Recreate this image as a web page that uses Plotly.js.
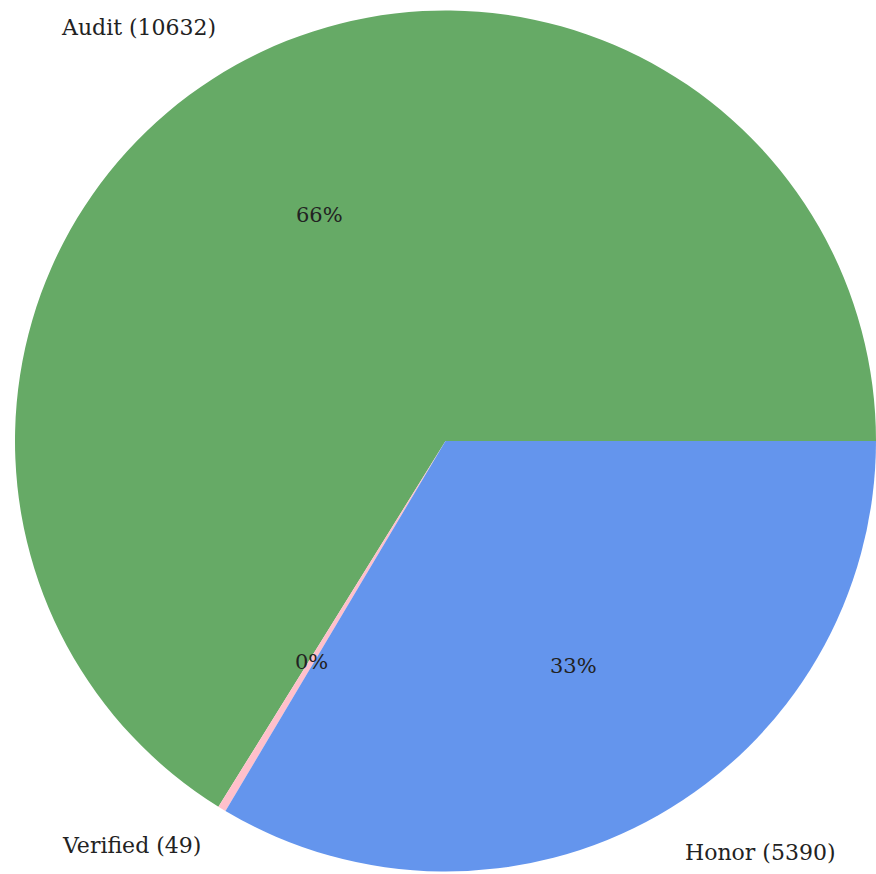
<!DOCTYPE html>
<html>
<head>
<meta charset="utf-8">
<script src="https://cdn.plot.ly/plotly-3.0.1.min.js"></script>
<style>html,body{margin:0;padding:0;background:#fff;}#chart{width:876px;height:874px;}</style>
</head>
<body>
<div id="chart"></div>
<script>
const categories = ["Audit", "Verified", "Honor"];
const counts = [10632, 49, 5390];
const colors = ["#66aa66", "#ffc0cb", "#6495ed"];

const W = 876, H = 874;
const margin = {l: 15, r: 0, t: 8, b: 0};
const pw = W - margin.l - margin.r, ph = H - margin.t - margin.b;
const cx = margin.l + pw / 2, cy = margin.t + ph / 2;
const R = Math.min(pw, ph) / 2;

const total = counts.reduce((a, b) => a + b, 0);
const font = "DejaVu Serif, serif";
const annotations = [];
let start = 0;
counts.forEach((v, i) => {
  const frac = v / total;
  const mid = (start + frac / 2) * 2 * Math.PI;
  start += frac;
  const c = Math.cos(mid), s = Math.sin(mid);
  const lx = cx + 1.1 * R * c, ly = cy - 1.1 * R * s;
  annotations.push({
    x: (lx - margin.l) / pw, y: 1 - (ly - margin.t) / ph,
    xref: "paper", yref: "paper", showarrow: false,
    text: categories[i] + " (" + v + ")",
    xanchor: c >= 0 ? "left" : "right", yanchor: "middle",
    xshift: 3,
    font: {family: font, size: 22, color: "#222"}
  });
  const px = cx + 0.6 * R * c, py = cy - 0.6 * R * s;
  annotations.push({
    x: (px - margin.l) / pw, y: 1 - (py - margin.t) / ph,
    xref: "paper", yref: "paper", showarrow: false,
    text: Math.floor(frac * 100) + "%",
    xanchor: "center", yanchor: "middle",
    font: {family: font, size: 21, color: "#222"}
  });
});

// Plotly places the first counterclockwise slice on the clockwise side of `rotation`,
// so shift start so the first slice begins at 3 o'clock going counterclockwise.
const rotation = 90 - 360 * counts[0] / total;

const data = [{
  type: "pie",
  labels: categories,
  values: counts,
  marker: {colors: colors, line: {width: 0}},
  sort: false,
  direction: "counterclockwise",
  rotation: rotation,
  textinfo: "none",
  hoverinfo: "label+value+percent",
  showlegend: false
}];

const layout = {
  width: W, height: H,
  margin: margin,
  paper_bgcolor: "#fff",
  showlegend: false,
  annotations: annotations
};

Plotly.newPlot("chart", data, layout, {displayModeBar: false, staticPlot: true});
</script>
</body>
</html>
